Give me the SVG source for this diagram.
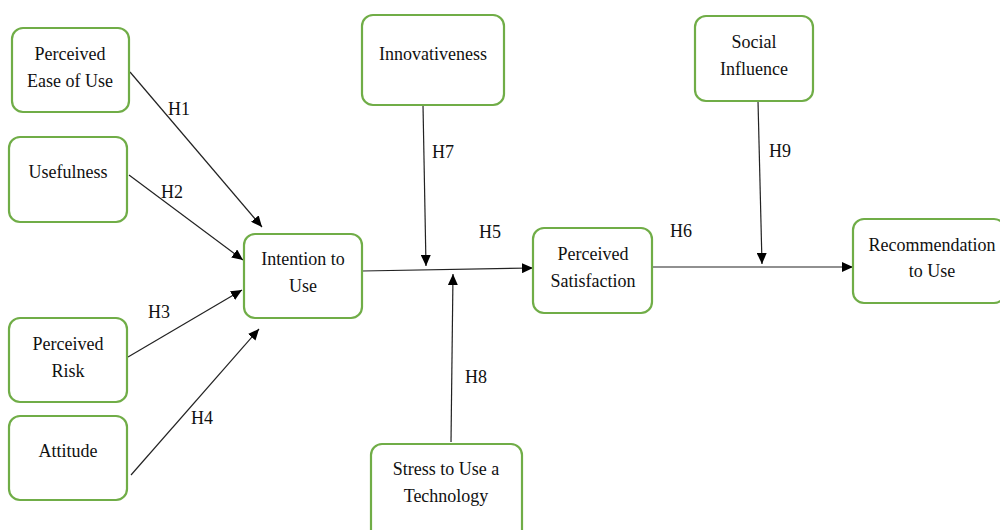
<svg xmlns="http://www.w3.org/2000/svg" width="1000" height="530" viewBox="0 0 1000 530">
<style>
.box{fill:#fff;stroke:#70AD47;stroke-width:2.2}
.t{text-anchor:middle}
.c{stroke:#222;stroke-width:1.2;fill:none;marker-end:url(#arr)}
</style>
<defs>
<marker id="arr" markerUnits="userSpaceOnUse" markerWidth="12" markerHeight="10" refX="11" refY="5" orient="auto">
<path d="M0,0 L11,5 L0,10 z" fill="#000"/>
</marker>
</defs>
<rect width="1000" height="530" fill="#fff"/>
<g font-family="Liberation Serif, Times New Roman, Times, Tinos, Noto Serif, DejaVu Serif, serif" font-size="18" fill="#111">
<g id="connectors">
<line class="c" x1="130" y1="72" x2="262" y2="227"/>
<line class="c" x1="129" y1="175" x2="243" y2="260"/>
<line class="c" x1="128" y1="357" x2="242" y2="290"/>
<line class="c" x1="131" y1="475" x2="259" y2="329"/>
<line class="c" x1="362" y1="271" x2="533" y2="268"/>
<line class="c" x1="423" y1="105" x2="426" y2="266"/>
<line class="c" x1="451" y1="442" x2="453" y2="274"/>
<line class="c" x1="653" y1="267" x2="853" y2="267"/>
<line class="c" x1="758" y1="101" x2="762" y2="264"/>
<text x="168" y="115">H1</text>
<text x="161" y="198">H2</text>
<text x="148" y="318">H3</text>
<text x="191" y="424">H4</text>
<text x="479" y="238">H5</text>
<text x="670" y="237">H6</text>
<text x="432" y="158">H7</text>
<text x="465" y="383">H8</text>
<text x="769" y="157">H9</text>
</g>
<g id="peou"><rect class="box" x="12" y="28" width="117" height="84" rx="11"/><text class="t" x="70" y="60">Perceived</text><text class="t" x="70" y="87">Ease of Use</text></g>
<g id="usefulness"><rect class="box" x="9" y="137" width="118" height="85" rx="11"/><text class="t" x="68" y="178">Usefulness</text></g>
<g id="risk"><rect class="box" x="9" y="318" width="118" height="84" rx="11"/><text class="t" x="68" y="350">Perceived</text><text class="t" x="68" y="377">Risk</text></g>
<g id="attitude"><rect class="box" x="9" y="416" width="118" height="84" rx="11"/><text class="t" x="68" y="457">Attitude</text></g>
<g id="intention"><rect class="box" x="244" y="234" width="118" height="84" rx="11"/><text class="t" x="303" y="265">Intention to</text><text class="t" x="303" y="292">Use</text></g>
<g id="innovativeness"><rect class="box" x="362" y="15" width="142" height="90" rx="11"/><text class="t" x="433" y="60">Innovativeness</text></g>
<g id="satisfaction"><rect class="box" x="533" y="228" width="119" height="85" rx="11"/><text class="t" x="593" y="260">Perceived</text><text class="t" x="593" y="287">Satisfaction</text></g>
<g id="stress"><rect class="box" x="371" y="444" width="151" height="100" rx="11"/><text class="t" x="446" y="475">Stress to Use a</text><text class="t" x="446" y="502">Technology</text></g>
<g id="social"><rect class="box" x="695" y="16" width="118" height="85" rx="11"/><text class="t" x="754" y="48">Social</text><text class="t" x="754" y="75">Influence</text></g>
<g id="recommendation"><rect class="box" x="853" y="219" width="152" height="84" rx="11"/><text class="t" x="932" y="251">Recommendation</text><text class="t" x="932" y="277">to Use</text></g>
</g>
</svg>
